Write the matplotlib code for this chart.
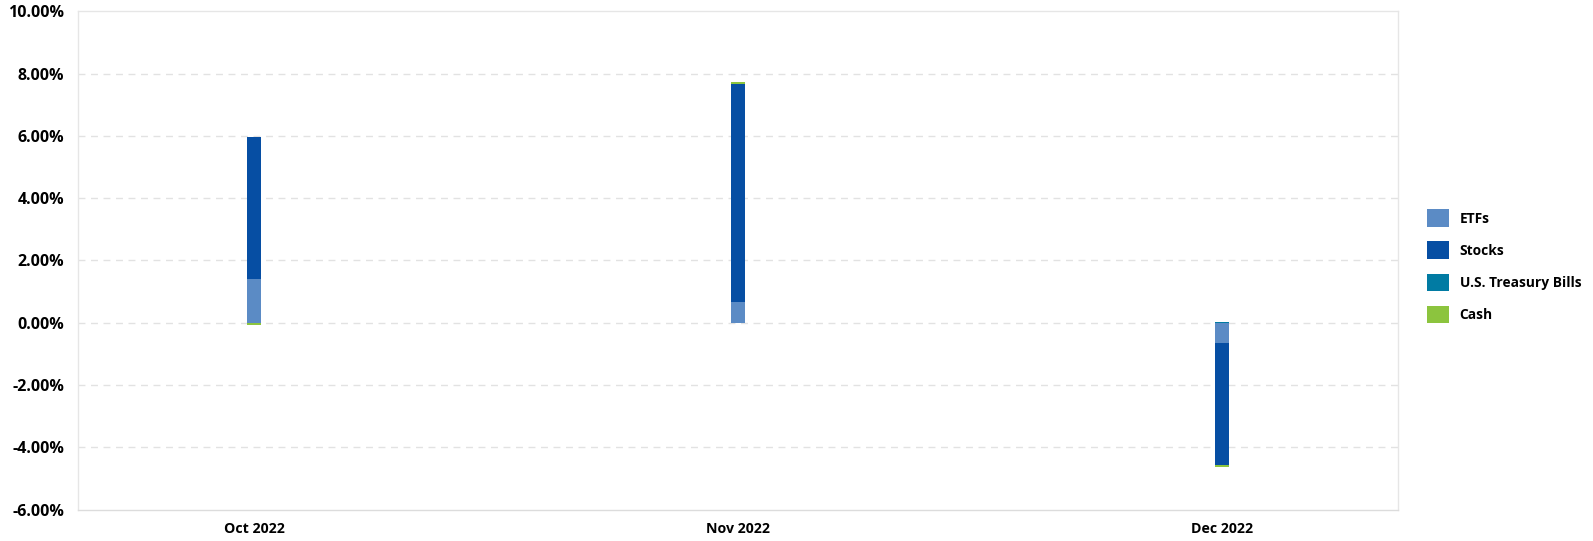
import numpy as np
import matplotlib.pyplot as plt
from matplotlib.patches import Patch
from matplotlib.ticker import FuncFormatter

plt.rcParams['font.family'] = ['Open Sans', 'DejaVu Sans']

months = ['Oct 2022', 'Nov 2022', 'Dec 2022']
etfs = [1.40, 0.66, -0.66]
stocks = [4.55, 7.00, -3.91]
tbills = [0.02, 0.00, 0.03]
cash = [-0.06, 0.07, -0.07]

series = [('ETFs', etfs, '#5b8bc5'),
          ('Stocks', stocks, '#064ea3'),
          ('U.S. Treasury Bills', tbills, '#017ba3'),
          ('Cash', cash, '#8cc43e')]

fig = plt.figure(figsize=(15.93, 5.41), dpi=100)
ax = fig.add_axes([78/1593, 1 - 509.7/541, 1320/1593, 498.5/541])

x = np.arange(len(months))
pos_base = np.zeros(len(months))
neg_base = np.zeros(len(months))
# stack positives and negatives separately, like the original chart
for name, vals, col in series:
    vals = np.array(vals)
    base = np.where(vals >= 0, pos_base, neg_base)
    ax.bar(x, vals, bottom=base, width=0.029, color=col, linewidth=0)
    pos_base += np.where(vals >= 0, vals, 0)
    neg_base += np.where(vals < 0, vals, 0)

ax.set_xlim(-0.364, 2.364)
ax.set_ylim(-6, 10)
ax.set_yticks(np.arange(-6, 11, 2))
ax.yaxis.set_major_formatter(FuncFormatter(lambda v, p: '%.2f%%' % v))
ax.set_xticks(x)
ax.set_xticklabels(months)

for v in range(-4, 10, 2):
    ax.axhline(v, color='#e2e2e2', linewidth=1, linestyle=(0, (5, 4)), zorder=0)

for s in ax.spines.values():
    s.set_color('#e6e6e6')
    s.set_linewidth(1)
ax.spines['bottom'].set_color('#dcdcdc')

ax.tick_params(axis='both', length=0, colors='black')
ax.tick_params(axis='y', pad=10, labelsize=11.5)
ax.tick_params(axis='x', pad=9, labelsize=10.2)
for lbl in ax.get_xticklabels() + ax.get_yticklabels():
    lbl.set_fontweight('bold')

handles = [Patch(facecolor=c, edgecolor='none', label=n) for n, _, c in series]
fig.legend(handles=handles, loc='upper left', bbox_to_anchor=(1415/1593, 1 - 197/541),
           frameon=False, handlelength=1.6, handleheight=1.6, handletextpad=0.75,
           labelspacing=1.05, prop={'size': 9.9, 'weight': 'bold'})

fig.savefig('out.png', dpi=100)
